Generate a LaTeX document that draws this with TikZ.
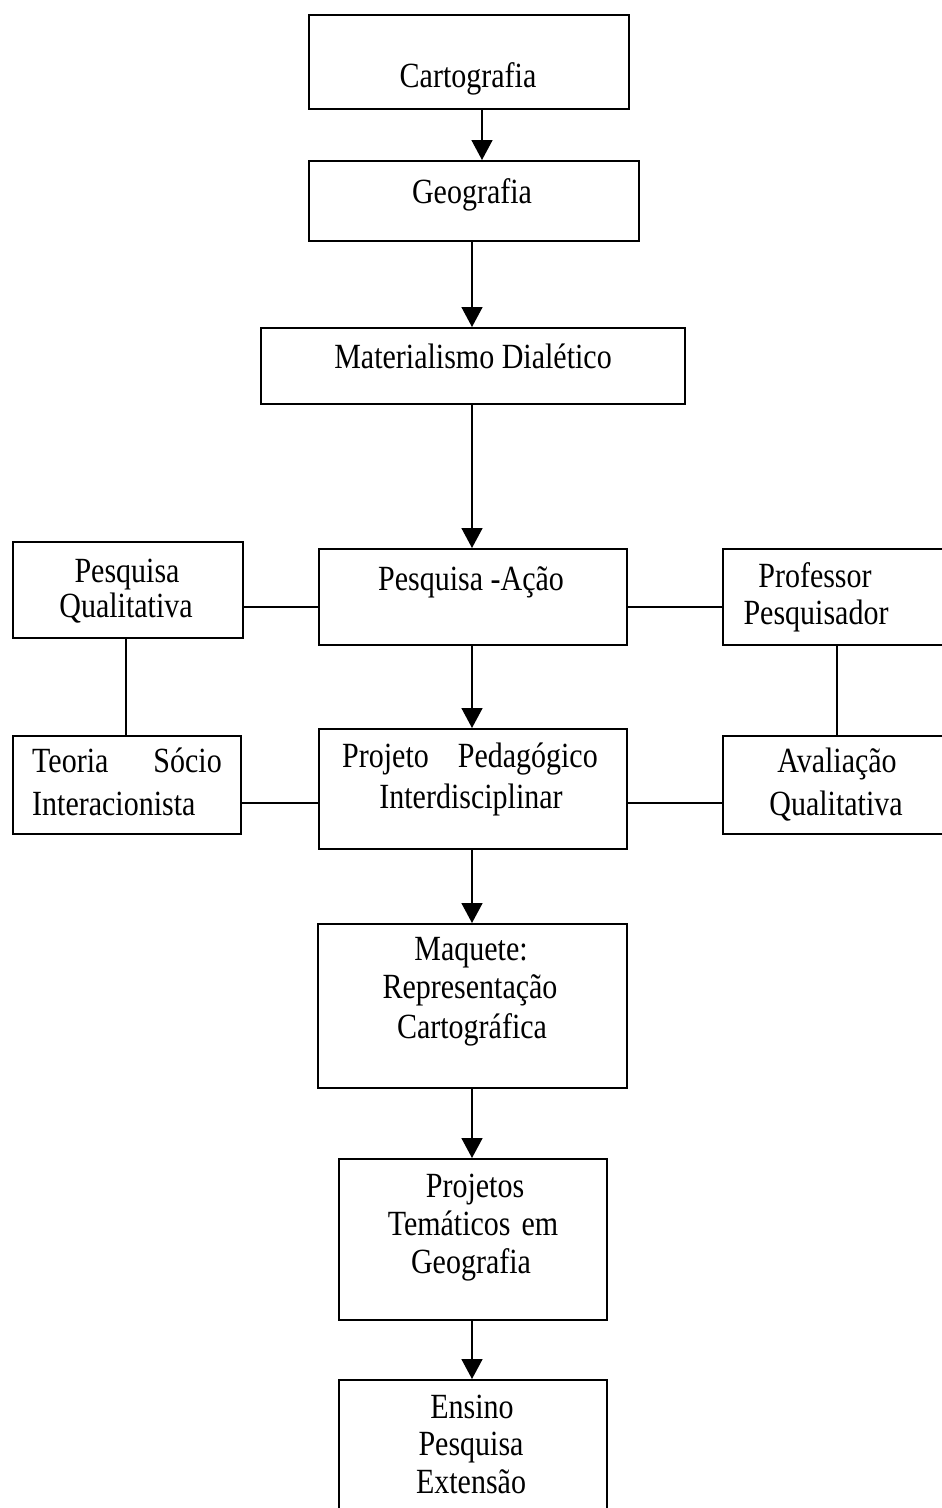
\documentclass[tikz,border=0pt]{standalone}
\usepackage{graphicx}
\usepackage{fontspec}
\setmainfont{Liberation Serif}
\usetikzlibrary{arrows.meta}
\newcommand\tallt[1]{\scalebox{1}[1.18]{#1}}
\begin{document}
\begin{tikzpicture}[x=1pt,y=-1pt,
  box/.style={draw, line width=1.6pt, rectangle, inner sep=0pt, anchor=north west},
  txt/.style={font=\fontsize{30}{36}\selectfont, inner sep=0pt, anchor=base},
  arr/.style={line width=1.6pt, -{Triangle[width=21pt,length=20pt]}},
  ln/.style={line width=1.6pt}]
\useasboundingbox (0,0) rectangle (942,1508);
% boxes
\node[box, minimum width=320pt, minimum height=94pt]  (carto) at (308,14) {};
\node[box, minimum width=330pt, minimum height=80pt]  (geo)   at (308,160) {};
\node[box, minimum width=424pt, minimum height=76pt]  (mat)   at (260,327) {};
\node[box, minimum width=230pt, minimum height=96pt]  (pq)    at (12,541) {};
\node[box, minimum width=308pt, minimum height=96pt]  (pa)    at (318,548) {};
\node[box, minimum width=240pt, minimum height=96pt]  (prof)  at (722,548) {};
\node[box, minimum width=228pt, minimum height=98pt]  (teo)   at (12,735) {};
\node[box, minimum width=308pt, minimum height=120pt] (proj)  at (318,728) {};
\node[box, minimum width=240pt, minimum height=98pt]  (aval)  at (722,735) {};
\node[box, minimum width=309pt, minimum height=164pt] (maq)   at (317,923) {};
\node[box, minimum width=268pt, minimum height=161pt] (ptem)  at (338,1158) {};
\node[box, minimum width=268pt, minimum height=160pt] (ens)   at (338,1379) {};
% texts
\node[txt] (tcarto) at (468,87) {\tallt{Cartografia}};
\node[txt] (tgeo) at (472,203) {\tallt{Geografia}};
\node[txt] (tmat) at (473,368) {\tallt{Materialismo Dialético}};
\node[txt] (tpq1) at (127,582) {\tallt{Pesquisa}};
\node[txt] (tpq2) at (126,617) {\tallt{Qualitativa}};
\node[txt] (tpa) at (471,590) {\tallt{Pesquisa -Ação}};
\node[txt] (tprof1) at (815,587) {\tallt{Professor}};
\node[txt] (tprof2) at (816,624) {\tallt{Pesquisador}};
\node[txt, anchor=base west] (tteo1) at (32,772) {\tallt{Teoria}};
\node[txt, anchor=base east] (tteo2) at (222,772) {\tallt{Sócio}};
\node[txt, anchor=base west] (tteo3) at (32,815) {\tallt{Interacionista}};
\node[txt, anchor=base west] (tproj1) at (342,767) {\tallt{Projeto}};
\node[txt, anchor=base east] (tproj2) at (598,767) {\tallt{Pedagógico}};
\node[txt] (tproj3) at (471,808) {\tallt{Interdisciplinar}};
\node[txt] (taval1) at (837,772) {\tallt{Avaliação}};
\node[txt] (taval2) at (836,815) {\tallt{Qualitativa}};
\node[txt] (tmaq1) at (471,960) {\tallt{Maquete:}};
\node[txt] (tmaq2) at (470,998) {\tallt{Representação}};
\node[txt] (tmaq3) at (472,1038) {\tallt{Cartográfica}};
\node[txt] (tpt1) at (475,1197) {\tallt{Projetos}};
\node[txt] (tpt2) at (473,1235) {\tallt{Temáticos\hspace{11pt}em}};
\node[txt] (tpt3) at (471,1273) {\tallt{Geografia}};
\node[txt] (tens1) at (472,1418) {\tallt{Ensino}};
\node[txt] (tens2) at (471,1455) {\tallt{Pesquisa}};
\node[txt] (tens3) at (471,1493) {\tallt{Extensão}};
% helper coordinates
\coordinate (xa) at (482,0);
\coordinate (xm) at (472,0);
\coordinate (xq) at (126,0);
\coordinate (xp) at (837,0);
\coordinate (ya) at (0,607);
\coordinate (yb) at (0,803);
% arrows
\draw[arr] (carto.south -| xa) -- (geo.north -| xa);
\draw[arr] (geo.south -| xm) -- (mat.north -| xm);
\draw[arr] (mat.south -| xm) -- (pa.north -| xm);
\draw[arr] (pa.south -| xm) -- (proj.north -| xm);
\draw[arr] (proj.south -| xm) -- (maq.north -| xm);
\draw[arr] (maq.south -| xm) -- (ptem.north -| xm);
\draw[arr] (ptem.south -| xm) -- (ens.north -| xm);
% plain connectors
\draw[ln] (pq.east |- ya) -- (pa.west |- ya);
\draw[ln] (pa.east |- ya) -- (prof.west |- ya);
\draw[ln] (teo.east |- yb) -- (proj.west |- yb);
\draw[ln] (proj.east |- yb) -- (aval.west |- yb);
\draw[ln] (pq.south -| xq) -- (teo.north -| xq);
\draw[ln] (prof.south -| xp) -- (aval.north -| xp);
\end{tikzpicture}
\end{document}
